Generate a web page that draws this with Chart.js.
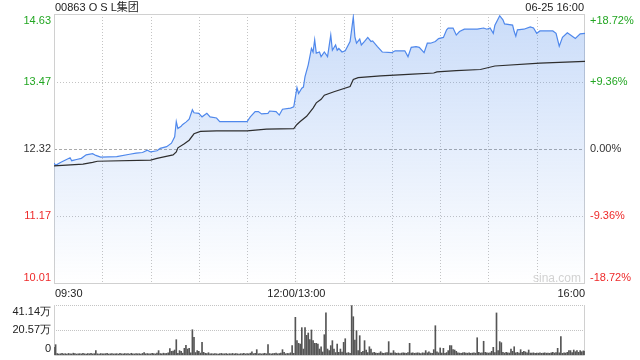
<!DOCTYPE html>
<html lang="zh">
<head>
<meta charset="UTF-8">
<title>00863 OSL集团 分时</title>
<style>
  body { margin: 0; background: #fff; font-family: "Liberation Sans", Arial, "Noto Sans CJK SC", sans-serif; }
  #wrap { position: relative; width: 640px; height: 360px; overflow: hidden; }
  #fenshi { position: absolute; left: 0; top: 0; }
  #liang { position: absolute; left: 0; top: 300px; }
  .txt { position: absolute; font-size: 11px; color: #222; white-space: nowrap; line-height: 11px; }
</style>
</head>
<body>
<div id="wrap">
  <canvas id="fenshi" width="640" height="300"></canvas>
  <canvas id="liang" width="640" height="60"></canvas>
  <div class="txt" style="left:55px;top:2px">00863 O S L集团</div>
  <div class="txt" style="right:56px;top:2px">06-25 16:00</div>
  <div class="txt" style="left:533px;top:272px;color:#d2d2d2;font-size:12px;line-height:12px">sina.com</div>
</div>

<script src="https://cdn.jsdelivr.net/npm/chart.js"></script>
<script>
  // 分时价格
  const priceTimes = ['09:30','09:31','09:34','09:40','09:41','09:44','09:47','09:50','09:54','09:56','09:59',
    '10:09','10:17','10:21','10:25','10:28','10:30','10:34','10:36','10:40','10:43','10:45','10:46','10:47','10:49',
    '10:50','10:52','10:54','10:56','10:57','11:00','11:02','11:05','11:07','11:11','11:13','11:30','11:32','11:35',
    '11:37','11:39','11:43','11:44','11:48','11:50','11:52','11:57','11:59',
    '13:01','13:02','13:04','13:05','13:06','13:08','13:10','13:11','13:12','13:13','13:15','13:16','13:18','13:20',
    '13:22','13:23','13:25','13:26','13:27','13:29','13:31','13:34','13:36','13:37','13:38','13:40','13:41','13:43',
    '13:45','13:47','13:48','13:51','13:54','14:00','14:02','14:08','14:10','14:12','14:15','14:17','14:20','14:22',
    '14:24','14:27','14:29','14:32','14:34','14:35','14:38','14:40','14:42','14:45','14:53','14:57','14:59','15:01',
    '15:03','15:04','15:07','15:09','15:10','15:15','15:16','15:17','15:18','15:22','15:26','15:28','15:30','15:32',
    '15:40','15:42','15:44','15:46','15:49','15:51','15:54','15:57','16:00'];
  const priceValues = [12.08,12.04,12.09,12.17,12.12,12.14,12.16,12.22,12.24,12.21,12.18,
    12.19,12.23,12.25,12.26,12.30,12.27,12.29,12.33,12.36,12.42,12.53,12.79,12.67,12.71,
    12.74,12.78,12.83,12.99,12.94,12.93,12.87,12.93,12.87,12.85,12.79,12.79,12.87,12.96,
    12.96,12.92,12.93,12.97,12.96,12.90,13.00,13.02,13.04,
    13.37,13.27,13.36,13.38,13.56,13.76,14.04,13.98,14.19,13.96,13.98,13.90,13.98,13.90,
    14.27,14.01,14.10,14.01,14.04,13.98,14.00,14.16,14.58,14.24,14.13,14.20,14.10,14.16,
    14.23,14.16,14.17,14.07,13.98,13.97,14.00,14.00,13.90,14.06,14.07,14.06,13.97,14.13,
    14.13,14.16,14.21,14.23,14.36,14.39,14.39,14.27,14.33,14.37,14.37,14.39,14.37,14.39,
    14.30,14.44,14.60,14.53,14.46,14.44,14.33,14.25,14.36,14.37,14.41,14.39,14.30,14.34,
    14.34,14.30,14.08,14.23,14.31,14.27,14.21,14.29,14.30];

  // 均价线
  const avgTimes = ['09:30','09:48','09:54','09:57','10:30','10:34','10:39','10:44','10:46','10:47','10:51','10:54',
    '10:57','11:01','11:11','11:30','11:42','11:59','13:01','13:03','13:07','13:11','13:13','13:16','13:18','13:24',
    '13:34','13:36','13:39','13:53','14:13','14:26','14:28','14:40','14:55','15:04','15:32','16:00'];
  const avgValues = [12.03,12.06,12.09,12.11,12.13,12.16,12.19,12.22,12.27,12.34,12.41,12.47,
    12.58,12.62,12.63,12.63,12.66,12.67,12.74,12.79,12.88,13.02,13.11,13.17,13.24,13.30,
    13.39,13.51,13.54,13.57,13.60,13.62,13.64,13.66,13.68,13.74,13.79,13.82];

  // 每分钟成交量 (万股), 09:30 .. 12:00/13:00 .. 16:00
  const volumeValues = [
    6.3, 8.5, 1.2, 0.8, 1.0, 1.4, 0.9, 1.1, 0.8, 1.3,
    1.0, 0.9, 1.5, 1.2, 0.8, 1.0, 1.1, 0.9, 1.3, 1.0,
    0.8, 1.2, 1.0, 1.4, 0.9, 1.1, 3.6, 1.0, 0.8, 1.2,
    1.0, 0.9, 1.1, 1.3, 0.8, 1.0, 1.2, 0.9, 1.0, 1.1,
    0.8, 1.3, 1.0, 0.9, 1.2, 1.0, 1.1, 0.8, 1.4, 1.0,
    0.9, 1.2, 1.0, 1.1, 0.8, 1.3, 1.9, 1.0, 1.2, 0.9,
    1.0, 1.4, 1.1, 0.9, 1.6, 3.6, 1.2, 1.0, 1.5, 1.1,
    1.3, 1.8, 5.2, 3.0, 3.3, 4.1, 12.6, 1.4, 3.6, 3.0,
    1.5, 5.5, 8.0, 4.9, 5.5, 1.8, 20.8, 14.5, 2.0, 3.6,
    3.0, 1.6, 10.4, 2.2, 1.4, 1.2, 1.9, 1.0, 1.1, 0.9,
    1.2, 1.0, 0.8, 1.1, 1.3, 0.9, 1.0, 1.2, 0.8, 1.1,
    1.0, 1.3, 0.9, 1.2, 1.0, 0.8, 1.1, 1.0, 1.4, 0.9,
    1.2, 1.0, 1.5, 2.7, 1.1, 1.3, 4.4, 1.0, 1.2, 0.9,
    1.1, 1.4, 1.0, 8.5, 1.2, 0.9, 1.1, 1.3, 1.6, 1.0,
    1.2, 1.5, 4.4, 2.2, 1.0, 1.3, 1.1, 1.8, 7.7, 1.4,
    31.0,
    11.8, 9.6, 9.0, 22.5, 4.9, 22.5, 16.2, 18.1, 12.6, 20.6,
    11.8, 9.6, 9.6, 9.0, 4.9, 6.8, 2.5, 16.7, 34.6, 4.9,
    3.6, 7.7, 11.8, 4.9, 2.0, 9.0, 2.2, 4.9, 2.5, 10.4,
    13.4, 1.6, 2.0, 1.4, 40.6, 31.5, 12.3, 20.0, 3.6, 15.9,
    2.2, 3.0, 11.8, 4.1, 2.0, 6.8, 4.9, 1.8, 2.2, 1.6,
    1.4, 1.6, 2.7, 1.6, 1.4, 1.8, 2.0, 11.0, 1.6, 1.5,
    3.6, 1.8, 1.4, 1.6, 1.2, 1.6, 1.8, 1.6, 1.4, 2.0,
    9.6, 1.6, 1.8, 1.4, 1.5, 1.8, 1.6, 1.2, 1.8, 1.5,
    3.6, 1.8, 2.7, 1.6, 1.4, 4.4, 24.1, 2.7, 1.8, 5.8,
    1.6, 5.5, 1.4, 2.0, 3.6, 7.7, 7.7, 4.4, 4.1, 3.0,
    1.8, 1.6, 1.4, 1.8, 2.0, 1.6, 1.5, 1.8, 1.4, 1.6,
    1.8, 1.5, 14.2, 2.2, 1.6, 1.8, 11.3, 2.2, 1.8, 1.6,
    1.8, 3.0, 6.3, 2.0, 34.6, 3.6, 11.0, 10.1, 2.2, 1.6,
    2.2, 1.8, 1.6, 4.9, 3.0, 6.8, 1.8, 2.2, 1.6, 4.4,
    2.2, 3.0, 2.5, 1.8, 4.1, 1.6, 1.6, 1.8, 1.4, 1.6,
    1.5, 1.8, 1.4, 1.6, 1.8, 1.5, 1.6, 1.4, 1.8, 2.2,
    1.6, 2.0, 5.5, 1.8, 15.1, 1.4, 1.8, 1.6, 2.2, 3.6,
    3.6, 2.0, 4.1, 2.7, 3.6, 2.2, 3.6, 2.7, 3.4, 3.0
  ];

  // 坐标轴标签
  const priceTicks = [10.01, 11.17, 12.32, 13.47, 14.63];
  const pctLabels = ['-18.72%', '-9.36%', '0.00%', '+9.36%', '+18.72%'];
  const volTicks = [0, 20.57, 41.14];
  const volLabels = ['0', '20.57万', '41.14万'];
  const timeLabels = ['09:30', '12:00/13:00', '16:00'];
  const timeLabelIdx = [0, 150, 330];
  const prevClose = 12.32;

  const GREEN = '#22a622', RED = '#ee2a2a', DARK = '#333', GRID = '#c4c4c4', FONT = '11px "Liberation Sans", Arial, sans-serif';

  // 时间 -> 分钟序号 (午休合并)
  function toIndex(hm) {
    const [h, m] = hm.split(':').map(Number);
    const mins = h * 60 + m;
    return mins <= 720 ? mins - 570 : mins - 780 + 150;
  }

  const colorFor = v => v > prevClose + 0.001 ? GREEN : (v < prevClose - 0.001 ? RED : DARK);

  const fenshiDeco = {
    id: 'fenshiDeco',
    beforeDatasetsDraw(chart) {
      const { ctx, chartArea: a, scales: { x, y } } = chart;
      ctx.save();
      ctx.lineWidth = 1;
      ctx.strokeStyle = GRID;
      ctx.setLineDash([1, 2]);
      x.ticks.forEach(t => {
        if (t.value <= 0 || t.value >= 330) return;
        const px = Math.round(x.getPixelForValue(t.value)) + 0.5;
        ctx.beginPath(); ctx.moveTo(px, a.top); ctx.lineTo(px, a.bottom); ctx.stroke();
      });
      y.ticks.forEach(t => {
        if (t.value === priceTicks[0] || t.value === priceTicks[4]) return;
        const py = Math.round(y.getPixelForValue(t.value)) + 0.5;
        if (t.value === prevClose) { ctx.setLineDash([3, 2]); ctx.strokeStyle = '#aaaaaa'; }
        else { ctx.setLineDash([1, 2]); ctx.strokeStyle = GRID; }
        ctx.beginPath(); ctx.moveTo(a.left, py); ctx.lineTo(a.right, py); ctx.stroke();
      });
      ctx.setLineDash([]);
      ctx.strokeStyle = '#d0d0d0';
      ctx.strokeRect(a.left + 0.5, a.top + 0.5, a.width - 1, a.height - 1);
      ctx.restore();
    },
    afterDraw(chart) {
      const { ctx, chartArea: a, scales: { x, y } } = chart;
      ctx.save();
      ctx.font = FONT;
      priceTicks.forEach((v, i) => {
        const py = y.getPixelForValue(v);
        let base = 'middle', yy = py;
        if (i === priceTicks.length - 1) { base = 'top'; yy = py + 1; }
        if (i === 0) { base = 'bottom'; yy = py - 1; }
        ctx.textBaseline = base;
        ctx.fillStyle = colorFor(v);
        ctx.textAlign = 'right';
        ctx.fillText(v.toFixed(2), a.left - 3, yy);
        ctx.textAlign = 'left';
        ctx.fillText(pctLabels[i], a.right + 5, yy);
      });
      ctx.fillStyle = '#222';
      ctx.textBaseline = 'middle';
      timeLabels.forEach((s, i) => {
        const px = x.getPixelForValue(timeLabelIdx[i]);
        ctx.textAlign = i === 0 ? 'left' : (i === timeLabels.length - 1 ? 'right' : 'center');
        ctx.fillText(s, px + (i === timeLabels.length - 1 ? 0 : 1), a.bottom + 10);
      });
      ctx.restore();
    }
  };

  new Chart(document.getElementById('fenshi'), {
    type: 'line',
    data: {
      datasets: [{
        label: '价格',
        order: 2,
        data: priceTimes.map((t, i) => ({ x: toIndex(t), y: priceValues[i] })),
        borderColor: '#4f88ec',
        borderWidth: 1.2,
        pointRadius: 0,
        tension: 0,
        fill: 'start',
        backgroundColor: c => {
          const a = c.chart.chartArea;
          if (!a) return 'rgba(80,140,235,0.25)';
          const g = c.chart.ctx.createLinearGradient(0, a.top, 0, a.bottom);
          g.addColorStop(0, 'rgba(80,140,235,0.30)');
          g.addColorStop(0.5, 'rgba(80,140,235,0.15)');
          g.addColorStop(1, 'rgba(80,140,235,0)');
          return g;
        }
      }, {
        label: '均价',
        order: 1,
        data: avgTimes.map((t, i) => ({ x: toIndex(t), y: avgValues[i] })),
        borderColor: '#2e2e2e',
        borderWidth: 1.2,
        pointRadius: 0,
        tension: 0,
        fill: false
      }]
    },
    options: {
      responsive: false,
      animation: false,
      layout: { padding: { left: 54, right: 55, top: 14, bottom: 16 } },
      plugins: { legend: { display: false }, tooltip: { enabled: false } },
      scales: {
        x: { type: 'linear', min: 0, max: 330, display: false, ticks: { stepSize: 30 } },
        y: {
          min: priceTicks[0], max: priceTicks[4], display: false,
          afterBuildTicks: s => { s.ticks = priceTicks.map(v => ({ value: v })); }
        }
      }
    },
    plugins: [fenshiDeco]
  });

  const liangDeco = {
    id: 'liangDeco',
    beforeDatasetsDraw(chart) {
      const { ctx, chartArea: a, scales: { y } } = chart;
      ctx.save();
      ctx.lineWidth = 1;
      ctx.strokeStyle = GRID;
      ctx.setLineDash([1, 1]);
      [volTicks[1], volTicks[2]].forEach(v => {
        const py = Math.round(y.getPixelForValue(v)) + 0.5;
        ctx.beginPath(); ctx.moveTo(a.left, py); ctx.lineTo(a.right, py); ctx.stroke();
      });
      ctx.setLineDash([]);
      ctx.strokeStyle = '#d0d0d0';
      ctx.beginPath();
      ctx.moveTo(a.left + 0.5, a.top); ctx.lineTo(a.left + 0.5, a.bottom + 0.5);
      ctx.lineTo(a.right - 0.5, a.bottom + 0.5); ctx.lineTo(a.right - 0.5, a.top);
      ctx.stroke();
      ctx.restore();
    },
    afterDraw(chart) {
      const { ctx, chartArea: a, scales: { y } } = chart;
      ctx.save();
      ctx.font = FONT;
      ctx.fillStyle = '#222';
      ctx.textAlign = 'right';
      volTicks.forEach((v, i) => {
        const py = y.getPixelForValue(v);
        let base = 'middle', yy = py;
        if (i === volTicks.length - 1) { base = 'top'; yy = py + 1; }
        if (i === 0) { base = 'bottom'; yy = py - 1; }
        ctx.textBaseline = base;
        ctx.fillText(volLabels[i], a.left - 3, yy);
      });
      ctx.restore();
    }
  };

  new Chart(document.getElementById('liang'), {
    type: 'bar',
    data: {
      datasets: [{
        label: '成交量',
        data: volumeValues.map((v, i) => ({ x: i, y: v })),
        backgroundColor: '#555',
        barThickness: 1,
        borderWidth: 0
      }]
    },
    options: {
      responsive: false,
      animation: false,
      layout: { padding: { left: 54, right: 55, top: 5, bottom: 5 } },
      plugins: { legend: { display: false }, tooltip: { enabled: false } },
      scales: {
        x: { type: 'linear', min: 0, max: 330, display: false, offset: false },
        y: { min: 0, max: volTicks[2], display: false }
      }
    },
    plugins: [liangDeco]
  });
</script>
</body>
</html>
